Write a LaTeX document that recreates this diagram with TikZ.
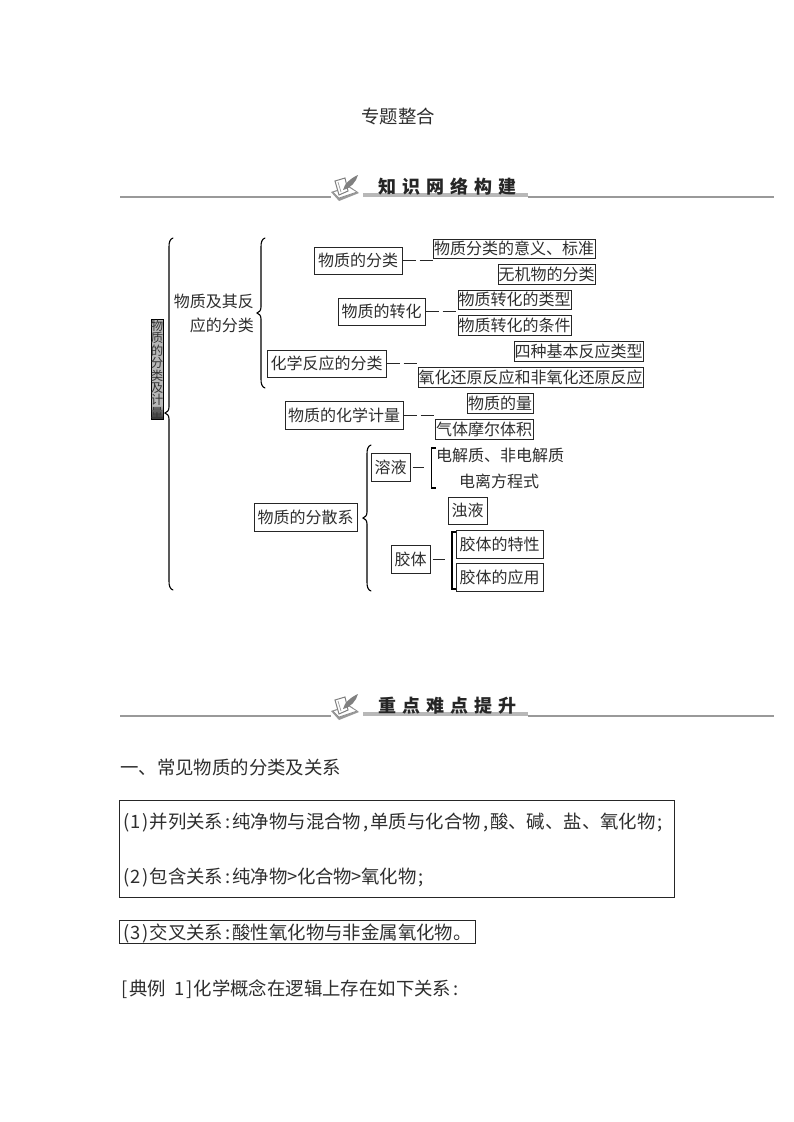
\documentclass[tikz,border=0pt]{standalone}
\usepackage{fontspec}
\setmainfont{Noto Sans CJK SC}
\newcommand{\hw}[1]{\makebox[9.2pt][c]{#1}}
\tikzset{
  x=1pt,y=-1pt,
  tx/.style={inner sep=0pt,text=black!82,font=\fontsize{16}{16}\selectfont},
  para/.style={inner sep=0pt,anchor=west,text=black!82,font=\fontsize{18.4}{18.4}\selectfont},
  bx/.style={draw=black!85,line width=1pt,inner sep=0pt,align=center,text=black!82,font=\fontsize{16}{16}\selectfont},
  conn/.style={draw=black!85,line width=1pt,dash pattern=on 13pt off 4pt on 13pt},
  solidc/.style={draw=black!85,line width=1pt,shorten <=2pt,shorten >=7pt},
  brace/.style={draw=black,line width=1.1pt,line cap=round},
  rule/.style={draw=black!40,line width=2pt},
  head/.style={inner sep=0pt,text=black!85,font=\fontsize{18}{18}\selectfont\bfseries},
}
\newcommand{\bracepath}[4]{% spine x, top, mid, bottom
  \draw[brace] (#1+4,#2) .. controls (#1+1,#2+1) and (#1,#2+4) .. (#1,#2+9)
    -- (#1,#3-6) .. controls (#1,#3-2) and (#1-2,#3-1) .. (#1-4,#3)
    .. controls (#1-2,#3+1) and (#1,#3+2) .. (#1,#3+6)
    -- (#1,#4-9) .. controls (#1,#4-4) and (#1+1,#4-1) .. (#1+4,#4);}
\newcommand{\quill}[2]{% icon at offset
  \begin{scope}[shift={(#1,#2)}]
    \fill[black!40] (0,17) -- (18,11) -- (28,18) -- (8,26) -- cycle;
    \fill[white,draw=black!45,line width=.7pt] (2,17) -- (18,12) -- (26,17) -- (8,23) -- cycle;
    \fill[white,draw=black!50,line width=1pt] (4,6) -- (14,3) -- (17,16) -- (8,20) -- cycle;
    \draw[black!40,line width=.7pt] (7,7) -- (10,17);
    \fill[black!50] (12,15) .. controls (13,9) and (20,3) .. (27,0)
      .. controls (25,7) and (20,13) .. (12,15) -- cycle;
  \end{scope}}
\begin{document}
\begin{tikzpicture}
\useasboundingbox[fill=white] (0,0) rectangle (793,1122);
% title
\node[inner sep=0pt,text=black!82,font=\fontsize{18.4}{18.4}\selectfont] (title) at (398,116) {专题整合};
% section header 1
\draw[rule] (120,197) -- (331,197);
\draw[rule] (528,197) -- (774,197);
\fill[black!28] (363,193) rectangle (528,197);
\quill{331}{175}
\node[head] (h1) at (447.5,187) {知\hspace{6pt}识\hspace{6pt}网\hspace{6pt}络\hspace{6pt}构\hspace{6pt}建};
% section header 2
\draw[rule] (120,716) -- (331,716);
\draw[rule] (528,716) -- (774,716);
\fill[black!28] (363,712) rectangle (528,716);
\quill{331}{694}
\node[head] (h2) at (447.5,706) {重\hspace{6pt}点\hspace{6pt}难\hspace{6pt}点\hspace{6pt}提\hspace{6pt}升};

% vertical label
\fill[black!28] (151,319) rectangle (163,405);
\shade[top color=black!28,bottom color=black!80] (151,405) rectangle (163,419);
\draw[black,line width=1pt] (151,319) rectangle (163,419);
\node[inner sep=0pt,align=center,text=black!80,font=\fontsize{12.4}{12.4}\selectfont] (vl) at (157,369)
  {物\\质\\的\\分\\类\\及\\计\\量};

% braces
\bracepath{169}{238}{413}{590}
\bracepath{261}{238}{313}{388}
\bracepath{367}{445}{518}{591}

% level 2 text
\node[tx,align=right,anchor=east,font=\fontsize{16}{24}\selectfont] (wz) at (254,313) {物质及其反\\应的分类};

% boxes
\node[bx,minimum width=88pt,minimum height=27pt] (fl) at (358,260.5) {物质的分类};
\node[bx,minimum width=162pt,minimum height=19pt] (fl1) at (514,248.5) {物质分类的意义、标准};
\node[bx,minimum width=97pt,minimum height=20pt] (fl2) at (546.5,274) {无机物的分类};
\node[bx,minimum width=87pt,minimum height=27pt] (zh) at (381.5,311.5) {物质的转化};
\node[bx,minimum width=113pt,minimum height=19pt] (zh1) at (514.5,299.5) {物质转化的类型};
\node[bx,minimum width=113pt,minimum height=20pt] (zh2) at (514.5,325) {物质转化的条件};
\node[bx,minimum width=119pt,minimum height=27pt] (hx) at (326.5,363.5) {化学反应的分类};
\node[bx,minimum width=129pt,minimum height=20pt] (hx1) at (578.5,351) {四种基本反应类型};
\node[bx,minimum width=225pt,minimum height=20pt] (hx2) at (530.5,377) {氧化还原反应和非氧化还原反应};
\node[bx,minimum width=118pt,minimum height=28pt] (jl) at (344,415) {物质的化学计量};
\node[bx,minimum width=66pt,minimum height=20pt] (jl1) at (500,403) {物质的量};
\node[bx,minimum width=98pt,minimum height=20pt] (jl2) at (484,429) {气体摩尔体积};
\node[bx,minimum width=103pt,minimum height=28pt] (fs) at (305.5,517) {物质的分散系};
\node[bx,minimum width=39pt,minimum height=28pt] (ry) at (390.5,467) {溶液};
\node[bx,minimum width=39pt,minimum height=27pt] (zy) at (467.5,510.5) {浊液};
\node[bx,minimum width=39pt,minimum height=28pt] (jt) at (410.5,559) {胶体};
\node[bx,minimum width=87pt,minimum height=28pt] (jt1) at (499.5,544) {胶体的特性};
\node[bx,minimum width=87pt,minimum height=28pt] (jt2) at (499.5,577) {胶体的应用};
\node[tx] (ry1) at (500,455) {电解质、非电解质};
\node[tx] (ry2) at (499,481) {电离方程式};

% connectors
\draw[conn] (fl.east) -- (fl.east -| fl1.west);
\draw[conn] (zh.east) -- (zh.east -| zh1.west);
\draw[conn] (hx.east) -- (hx.east -| hx2.west);
\draw[conn] (jl.east) -- (jl.east -| jl2.west);
\coordinate (rb) at (431,467);
\coordinate (jb) at (452,559);
\draw[solidc] (ry.east) -- (rb);
\draw[solidc] (jt.east) -- (jb);
% square brackets
\draw[brace,line cap=butt] (436,448) -- (431.5,448) -- (431.5,488) -- (436,488);
\draw[brace,line cap=butt] (456,532) -- (452,532) -- (452,589) -- (456,589);

% lower text
\node[para] (sec) at (120,767) {一、常见物质的分类及关系};
\node[bx,anchor=north west,minimum width=555pt,minimum height=97pt] (p12box) at (119,800) {};
\node[para] (p1) at (122,823) {\hw{(}\hw{1}\hw{)}并列关系\hw{:}纯净物与混合物\hw{,}单质与化合物\hw{,}酸、碱、盐、氧化物\hw{;}};
\node[para] (p2) at (122,878) {\hw{(}\hw{2}\hw{)}包含关系\hw{:}纯净物\hw{>}化合物\hw{>}氧化物\hw{;}};
\node[bx,anchor=north west,minimum width=356pt,minimum height=23pt] (p3box) at (119,920) {};
\node[para] (p3) at (122,933) {\hw{(}\hw{3}\hw{)}交叉关系\hw{:}酸性氧化物与非金属氧化物。};
\node[para] (p4) at (120,989) {\hw{[}典例\hw{ }\hw{1}\hw{]}化学概念在逻辑上存在如下关系\hw{:}};
\end{tikzpicture}
\end{document}
